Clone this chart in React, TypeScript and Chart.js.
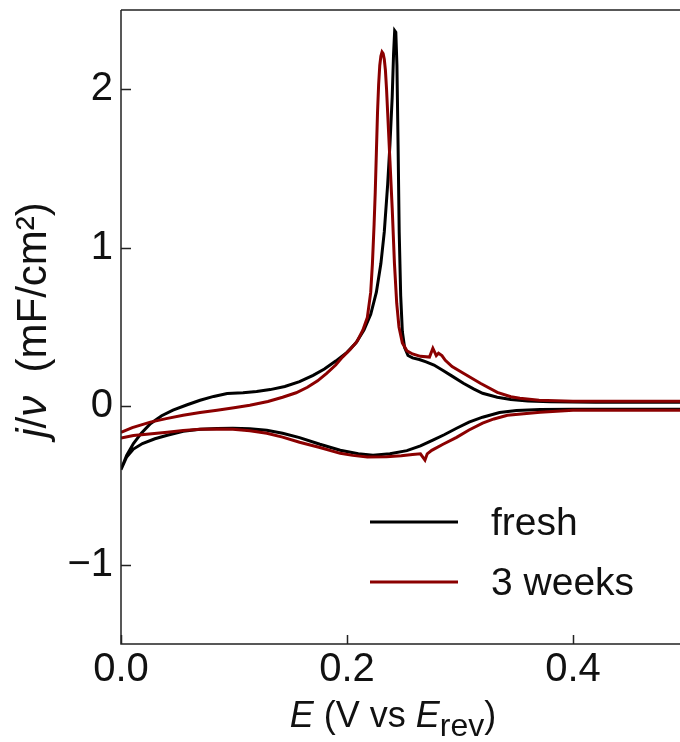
import React, { useEffect, useRef } from "react";
import { Chart, registerables } from "chart.js";

Chart.register(...registerables);

// ---- data (E in V vs E_rev, j/ν in mF/cm²); each loop: anodic sweep 0→0.5 then cathodic 0.5→0
const freshE = [
  0.000, 0.005, 0.011, 0.018, 0.026, 0.036, 0.046, 0.058, 0.070, 0.082, 0.094, 0.108, 0.120, 0.132,
  0.145, 0.158, 0.170, 0.180, 0.190, 0.200, 0.208, 0.215, 0.221, 0.226, 0.230, 0.233, 0.236, 0.238,
  0.240, 0.2412, 0.2422, 0.2432, 0.2442, 0.2452, 0.2462, 0.2475, 0.249, 0.251, 0.254, 0.258, 0.264,
  0.270, 0.277, 0.285, 0.293, 0.303, 0.312, 0.320, 0.333, 0.345, 0.360, 0.380, 0.420, 0.500,
  0.500, 0.400, 0.371, 0.350, 0.335, 0.320, 0.308, 0.297, 0.286, 0.276, 0.265, 0.253, 0.238, 0.223,
  0.210, 0.194, 0.176, 0.158, 0.143, 0.129, 0.114, 0.099, 0.085, 0.070, 0.055, 0.041, 0.030, 0.019,
  0.011, 0.005, 0.000,
];
const freshJ = [
  -0.40, -0.31, -0.235, -0.17, -0.11, -0.06, -0.025, 0.008, 0.038, 0.062, 0.080, 0.085, 0.093, 0.105,
  0.125, 0.155, 0.195, 0.235, 0.285, 0.34, 0.40, 0.48, 0.58, 0.72, 0.90, 1.10, 1.40, 1.65,
  1.95, 2.22, 2.37, 2.36, 2.15, 1.65, 1.10, 0.70, 0.47, 0.37, 0.32, 0.305, 0.295,
  0.28, 0.26, 0.225, 0.19, 0.145, 0.11, 0.082, 0.057, 0.043, 0.033, 0.028, 0.026, 0.026,
  -0.019, -0.019, -0.020, -0.027, -0.040, -0.069, -0.10, -0.139, -0.18, -0.214, -0.25, -0.28, -0.30, -0.309,
  -0.30, -0.278, -0.24, -0.198, -0.17, -0.151, -0.142, -0.139, -0.140, -0.145, -0.158, -0.183, -0.205, -0.235,
  -0.27, -0.32, -0.40,
];
const weeksE = [
  0.000, 0.010, 0.026, 0.040, 0.055, 0.070, 0.085, 0.100, 0.114, 0.130, 0.143, 0.155, 0.165, 0.174,
  0.182, 0.190, 0.196, 0.203, 0.209, 0.214, 0.218, 0.221, 0.2225, 0.224, 0.225, 0.226, 0.227, 0.228,
  0.229, 0.230, 0.231, 0.232, 0.233, 0.234, 0.235, 0.236, 0.238, 0.240, 0.242, 0.244, 0.246, 0.249,
  0.253, 0.258, 0.265, 0.273, 0.276, 0.279, 0.281, 0.284, 0.287, 0.293, 0.303, 0.318, 0.333, 0.345,
  0.353, 0.370, 0.400, 0.500,
  0.500, 0.400, 0.371, 0.342, 0.330, 0.320, 0.308, 0.297, 0.285, 0.275, 0.271, 0.269, 0.265, 0.258,
  0.248, 0.235, 0.218, 0.205, 0.194, 0.176, 0.158, 0.143, 0.129, 0.114, 0.099, 0.085, 0.070, 0.055,
  0.041, 0.025, 0.011, 0.000,
];
const weeksJ = [
  -0.165, -0.135, -0.10, -0.078, -0.057, -0.04, -0.025, -0.01, 0.006, 0.03, 0.057, 0.085, 0.12, 0.16,
  0.208, 0.26, 0.31, 0.36, 0.41, 0.48, 0.56, 0.72, 0.90, 1.15, 1.35, 1.60, 1.85, 2.03,
  2.15, 2.21, 2.235, 2.225, 2.19, 2.12, 2.00, 1.85, 1.55, 1.25, 0.90, 0.65, 0.50, 0.40,
  0.35, 0.33, 0.315, 0.31, 0.366, 0.32, 0.335, 0.32, 0.29, 0.25, 0.208, 0.145, 0.088, 0.06,
  0.05, 0.038, 0.032, 0.032,
  -0.025, -0.025, -0.038, -0.057, -0.08, -0.107, -0.15, -0.196, -0.24, -0.278, -0.30, -0.34, -0.30, -0.305,
  -0.312, -0.318, -0.32, -0.31, -0.297, -0.26, -0.227, -0.195, -0.17, -0.155, -0.145, -0.143, -0.145, -0.153,
  -0.164, -0.175, -0.185, -0.20,
];
const seriesNames = ["fresh", "3 weeks"];
const seriesColors = ["#000000", "#8b0000"];
const xTickValues = [0, 0.2, 0.4];
const yTickValues = [-1, 0, 1, 2];

const FONT = "'Liberation Sans', Arial, Helvetica, sans-serif";

const decorPlugin = {
  id: "decor",
  afterDraw(chart: any) {
    const { ctx, chartArea: ca, scales } = chart;
    const xs = scales.x;
    const ys = scales.y;
    ctx.save();
    // spines
    ctx.strokeStyle = "#222";
    ctx.lineWidth = 1.5;
    ctx.beginPath();
    ctx.moveTo(ca.left, ca.top);
    ctx.lineTo(ca.right + 2, ca.top);
    ctx.moveTo(ca.left, ca.top);
    ctx.lineTo(ca.left, ca.bottom);
    ctx.lineTo(ca.right + 2, ca.bottom);
    ctx.stroke();
    // inward ticks
    ctx.beginPath();
    xTickValues.forEach((v) => {
      const px = Math.round(xs.getPixelForValue(v)) + 0.5;
      ctx.moveTo(px, ca.bottom);
      ctx.lineTo(px, ca.bottom - 9);
    });
    yTickValues.forEach((v) => {
      const py = Math.round(ys.getPixelForValue(v)) + 0.5;
      ctx.moveTo(ca.left, py);
      ctx.lineTo(ca.left + 10, py);
    });
    ctx.stroke();

    // y title (rotated)
    ctx.fillStyle = "#111";
    ctx.textBaseline = "alphabetic";
    ctx.textAlign = "left";
    const yParts = [
      { t: "j", f: `italic 42px ${FONT}` },
      { t: "/", f: `42px ${FONT}` },
      { t: "ν", f: `italic 42px ${FONT}` },
      { t: "  (mF/cm²)", f: `42px ${FONT}` },
    ];
    let total = 0;
    yParts.forEach((p) => {
      ctx.font = p.f;
      total += ctx.measureText(p.t).width;
    });
    ctx.save();
    ctx.translate(46, 320);
    ctx.rotate(-Math.PI / 2);
    let cx = -total / 2;
    yParts.forEach((p) => {
      ctx.font = p.f;
      ctx.fillText(p.t, cx, 0);
      cx += ctx.measureText(p.t).width;
    });
    ctx.restore();

    // x title
    const xParts = [
      { t: "E", f: `italic 36px ${FONT}`, dy: 0 },
      { t: " (V vs ", f: `36px ${FONT}`, dy: 0 },
      { t: "E", f: `italic 36px ${FONT}`, dy: 0 },
      { t: "rev", f: `32px ${FONT}`, dy: 9 },
      { t: ")", f: `36px ${FONT}`, dy: 0 },
    ];
    let xt = 0;
    xParts.forEach((p) => {
      ctx.font = p.f;
      xt += ctx.measureText(p.t).width;
    });
    let xx = 393 - xt / 2;
    xParts.forEach((p) => {
      ctx.font = p.f;
      ctx.fillText(p.t, xx, 727 + p.dy);
      xx += ctx.measureText(p.t).width;
    });

    // legend
    const legY = [522, 582];
    seriesNames.forEach((name, i) => {
      ctx.strokeStyle = seriesColors[i];
      ctx.lineWidth = 3;
      ctx.beginPath();
      ctx.moveTo(370, legY[i]);
      ctx.lineTo(458, legY[i]);
      ctx.stroke();
      ctx.fillStyle = "#111";
      ctx.font = `39px ${FONT}`;
      ctx.fillText(name, 491, legY[i] + 13);
    });
    ctx.restore();
  },
};

export default function App() {
  const ref = useRef<HTMLCanvasElement | null>(null);
  useEffect(() => {
    document.body.style.margin = "0";
    const canvas = ref.current;
    if (!canvas) return;
    const mk = (E: number[], J: number[]) => E.map((x, i) => ({ x, y: J[i] }));
    const chart = new Chart(canvas, {
      type: "scatter",
      data: {
        datasets: [
          {
            label: seriesNames[0],
            data: mk(freshE, freshJ),
            showLine: true,
            borderColor: seriesColors[0],
            backgroundColor: seriesColors[0],
            borderWidth: 3,
            pointRadius: 0,
            tension: 0,
            order: 1,
          },
          {
            label: seriesNames[1],
            data: mk(weeksE, weeksJ),
            showLine: true,
            borderColor: seriesColors[1],
            backgroundColor: seriesColors[1],
            borderWidth: 3,
            pointRadius: 0,
            tension: 0,
            order: 0,
          },
        ],
      },
      options: {
        responsive: false,
        animation: false,
        layout: { padding: { top: 10, left: 0, right: 0, bottom: 0 } },
        plugins: { legend: { display: false }, tooltip: { enabled: false } },
        scales: {
          x: {
            type: "linear",
            min: 0,
            max: 0.4947,
            grid: { display: false, drawTicks: false },
            border: { display: false },
            afterBuildTicks: (s: any) => {
              s.ticks = xTickValues.map((v) => ({ value: v }));
            },
            afterFit: (s: any) => {
              s.height = 98;
              s.paddingLeft = 0;
              s.paddingRight = 0;
            },
            ticks: {
              font: { family: FONT, size: 40 },
              color: "#111",
              padding: 2,
              maxRotation: 0,
              autoSkip: false,
              callback: (v: any) => Number(v).toFixed(1),
            },
          },
          y: {
            type: "linear",
            min: -1.5,
            max: 2.5,
            grid: { display: false, drawTicks: false },
            border: { display: false },
            afterBuildTicks: (s: any) => {
              s.ticks = yTickValues.map((v) => ({ value: v }));
            },
            afterFit: (s: any) => {
              s.width = 121;
              s.paddingTop = 0;
              s.paddingBottom = 0;
            },
            ticks: {
              font: { family: FONT, size: 40 },
              color: "#111",
              padding: 8,
              autoSkip: false,
              callback: (v: any) => (Number(v) < 0 ? "\u2212" + Math.abs(Number(v)) : String(v)),
            },
          },
        },
      },
      plugins: [decorPlugin],
    });
    return () => chart.destroy();
  }, []);
  return (
    <div style={{ width: 680, height: 742 }}>
      <canvas ref={ref} width={680} height={742} style={{ display: "block" }} />
    </div>
  );
}
